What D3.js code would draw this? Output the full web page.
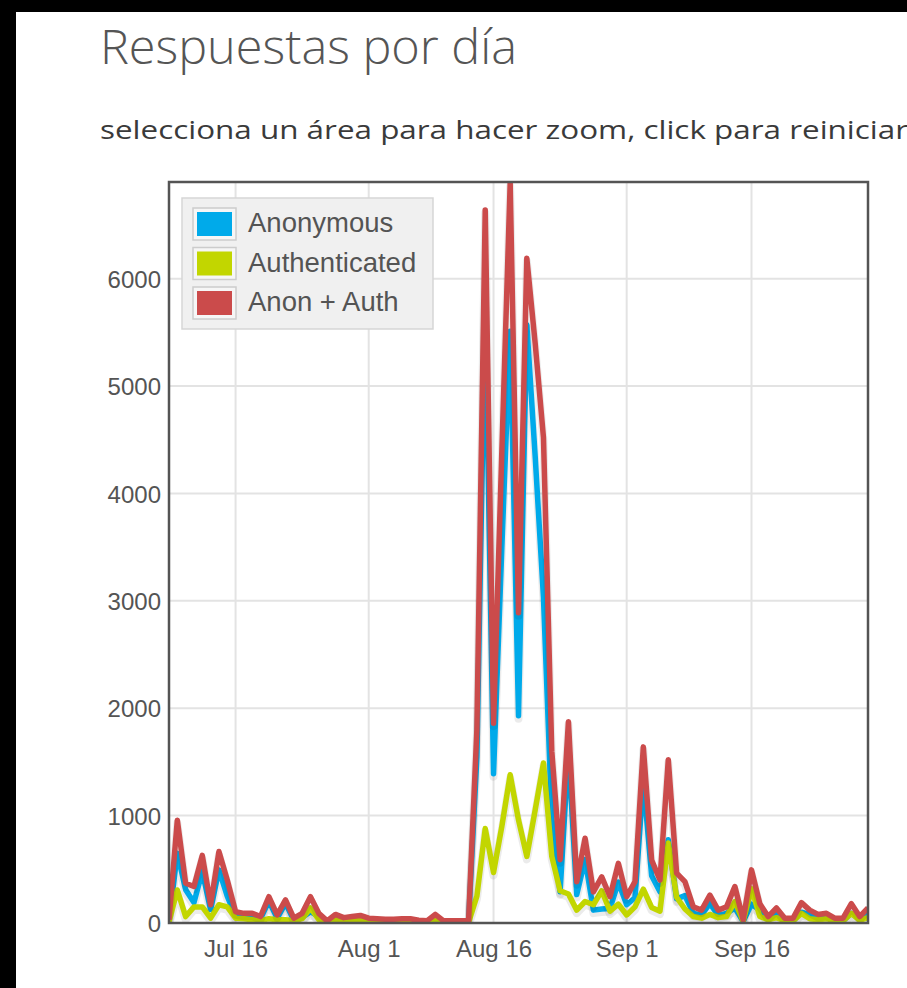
<!DOCTYPE html>
<html>
<head>
<meta charset="utf-8">
<script src="https://cdn.jsdelivr.net/npm/d3@7"></script>
<style>
  html, body { margin: 0; padding: 0; background: #000; }
  svg { display: block; }
</style>
</head>
<body>
<div id="graph"></div>
<script>
// Daily counts, one value per day starting Jul 8
var startDay = '2013-07-08';

var anonymous = [
   20, 650, 310, 190, 480, 125, 495, 250,  60,  50,  60,  40, 205,  45, 185,  25,
   50, 105,  60,  10,  50,  30,  40,  50,  30,  25,  25,  25,  25,  25,  15,  10,
   50,  10,  15,  15,  15, 1550, 5760, 1390, 3500, 5510, 1930, 5570, 4350, 3030,
  980, 290, 1605, 265, 590, 120, 130, 135, 380, 170, 235, 1325, 440, 290, 775, 225,
  255,  90,  75, 180,  70,  90, 140,  15, 175, 120,  30,  90,  25,  25, 100,  80,
   50,  50,  25,  25,  90,  35,  90 ];

var authenticated = [
   10, 307,  60, 150, 150,  45, 170, 150,  45,  40,  30,  20,  40,  30,  30,  20,
   40, 140,  30,  10,  30,  20,  20,  20,  15,  15,  10,  10,  15,  15,  10,  10,
   30,  10,   5,   5,   5, 250, 880, 470, 900, 1380, 960, 620, 1050, 1490,
  620, 300, 270, 120, 200, 170, 300, 110, 175,  75, 150, 315, 145, 110, 745, 240,
  130,  60,  45,  80,  50,  60, 200,  15, 320,  60,  30,  50,  20,  20,  90,  40,
   30,  40,  20,  20,  90,  25,  50 ];

var anonPlusAuth = [
   30, 957, 370, 340, 630, 170, 665, 400, 105,  90,  90,  60, 245,  75, 215,  45,
   90, 245,  90,  20,  80,  50,  60,  70,  45,  40,  35,  35,  40,  40,  25,  20,
   80,  20,  20,  20,  20, 1800, 6640, 1860, 4400, 6890, 2890, 6190, 5400, 4520,
 1600, 590, 1875, 385, 790, 290, 430, 245, 555, 245, 385, 1640, 585, 400, 1520, 465,
  385, 150, 120, 260, 120, 150, 340,  30, 495, 180,  60, 140,  45,  45, 190, 120,
   80,  90,  45,  45, 180,  60, 140 ];

var seriesNames  = [ 'Anonymous', 'Authenticated', 'Anon + Auth' ];
var seriesColors = [ '#00aaea', '#c2d600', '#cb4b4b' ];

var xTickDates  = [ '2013-07-16', '2013-08-01', '2013-08-16', '2013-09-01', '2013-09-16' ];
var xTickLabels = [ 'Jul 16', 'Aug 1', 'Aug 16', 'Sep 1', 'Sep 16' ];
var yTicks      = [ 0, 1000, 2000, 3000, 4000, 5000, 6000 ];


function CanvasApp ()
{
    var W = 907, H = 988;
    var plot = { left: 169, top: 182, right: 868, bottom: 923 };

    var parse = d3.timeParse ('%Y-%m-%d');
    var t0 = parse (startDay);

    // build the three series as date/value pairs
    var seriesValues = [ anonymous, authenticated, anonPlusAuth ];
    var series = seriesValues.map (function (vals, k)
    {
        return {
            name:  seriesNames[k],
            color: seriesColors[k],
            points: vals.map (function (v, i) { return { x: d3.timeDay.offset (t0, i), y: v }; })
        };
    });

    var xScale = d3.scaleTime ()
                   .domain ( [ t0, d3.timeDay.offset (t0, anonymous.length - 1) ] )
                   .range ( [ plot.left, plot.right ] );

    var yScale = d3.scaleLinear ()
                   .domain ( [ 0, 6900 ] )
                   .range ( [ plot.bottom, plot.top ] );

    var svg = d3.select ('#graph')
                .append ('svg')
                .attr ('width', W)
                .attr ('height', H);

    // black frame + white page
    svg.append ('rect').attr ('width', W).attr ('height', H).attr ('fill', '#000');
    svg.append ('rect').attr ('x', 16).attr ('y', 12)
       .attr ('width', W - 16).attr ('height', H - 12).attr ('fill', '#fff');

    // Titles
    svg.append ('text')
       .attr ('x', 100).attr ('y', 64)
       .attr ('textLength', 417).attr ('lengthAdjust', 'spacingAndGlyphs')
       .style ('font-family', '"Open Sans", sans-serif')
       .style ('font-weight', 300)
       .style ('font-size', '47px')
       .style ('fill', '#555')
       .text ('Respuestas por día');

    svg.append ('text')
       .attr ('x', 100).attr ('y', 139)
       .attr ('textLength', 808).attr ('lengthAdjust', 'spacingAndGlyphs')
       .style ('font-family', '"Open Sans", sans-serif')
       .style ('font-size', '26px')
       .style ('fill', '#3a3a3a')
       .text ('selecciona un área para hacer zoom, click para reiniciar');

    // grid
    var grid = svg.append ('g').attr ('class', 'grid');

    grid.selectAll ('line.gx')
        .data (xTickDates.map (parse))
        .enter ()
        .append ('line')
        .attr ('x1', function (d) { return xScale (d); })
        .attr ('x2', function (d) { return xScale (d); })
        .attr ('y1', plot.top).attr ('y2', plot.bottom)
        .attr ('stroke', '#e3e3e3').attr ('stroke-width', 2);

    grid.selectAll ('line.gy')
        .data (yTicks.slice (1))
        .enter ()
        .append ('line')
        .attr ('x1', plot.left).attr ('x2', plot.right)
        .attr ('y1', function (d) { return yScale (d); })
        .attr ('y2', function (d) { return yScale (d); })
        .attr ('stroke', '#e3e3e3').attr ('stroke-width', 2);

    // axes (labels only, flot style)
    var xAxis = d3.axisBottom (xScale)
                  .tickValues (xTickDates.map (parse))
                  .tickFormat (function (d, i) { return xTickLabels[i]; })
                  .tickSize (0)
                  .tickPadding (17);

    var yAxis = d3.axisLeft (yScale)
                  .tickValues (yTicks)
                  .tickSize (0)
                  .tickPadding (8)
                  .tickFormat (d3.format ('d'));

    var gx = svg.append ('g')
                .attr ('transform', 'translate(0,' + plot.bottom + ')')
                .call (xAxis);

    var gy = svg.append ('g')
                .attr ('transform', 'translate(' + plot.left + ',0)')
                .call (yAxis);

    [gx, gy].forEach (function (g)
    {
        g.select ('.domain').remove ();
        g.selectAll ('text')
         .style ('font-family', '"Liberation Sans", Arial, sans-serif')
         .style ('font-size', '24px')
         .style ('fill', '#545454');
    });
    gy.selectAll ('text').attr ('dy', '0.36em');

    // lines
    svg.append ('clipPath').attr ('id', 'plotClip')
       .append ('rect')
       .attr ('x', plot.left).attr ('y', plot.top - 1)
       .attr ('width', plot.right - plot.left)
       .attr ('height', plot.bottom - plot.top + 1);

    var line = d3.line ()
                 .x (function (d) { return xScale (d.x); })
                 .y (function (d) { return yScale (d.y); });

    var lines = svg.append ('g').attr ('clip-path', 'url(#plotClip)');

    series.forEach (function (s)
    {
        // soft shadow under each line
        lines.append ('path')
             .datum (s.points)
             .attr ('d', line)
             .attr ('transform', 'translate(0,3)')
             .attr ('fill', 'none')
             .attr ('stroke', 'rgba(0,0,0,0.08)')
             .attr ('stroke-width', 8)
             .attr ('stroke-linejoin', 'round');

        lines.append ('path')
             .datum (s.points)
             .attr ('d', line)
             .attr ('fill', 'none')
             .attr ('stroke', s.color)
             .attr ('stroke-width', 5.5)
             .attr ('stroke-linejoin', 'round');
    });

    // plot border
    svg.append ('rect')
       .attr ('x', plot.left).attr ('y', plot.top)
       .attr ('width', plot.right - plot.left)
       .attr ('height', plot.bottom - plot.top)
       .attr ('fill', 'none')
       .attr ('stroke', '#545454')
       .attr ('stroke-width', 2.5);

    // legend
    var legend = svg.append ('g').attr ('transform', 'translate(182,198)');

    legend.append ('rect')
          .attr ('width', 251).attr ('height', 131)
          .attr ('fill', '#f0f0f0')
          .attr ('stroke', '#d6d6d6').attr ('stroke-width', 1.5);

    var rows = legend.selectAll ('g.row')
                     .data (series)
                     .enter ()
                     .append ('g')
                     .attr ('transform', function (d, i) { return 'translate(0,' + (10 + i * 39.5) + ')'; });

    rows.append ('rect')
        .attr ('x', 11).attr ('y', 0).attr ('width', 43).attr ('height', 32)
        .attr ('fill', '#f6f6f6')
        .attr ('stroke', '#cccccc').attr ('stroke-width', 1.5);

    rows.append ('rect')
        .attr ('x', 15).attr ('y', 4).attr ('width', 35).attr ('height', 24)
        .attr ('fill', function (d) { return d.color; });

    rows.append ('text')
        .attr ('x', 66).attr ('y', 24)
        .style ('font-family', '"Liberation Sans", Arial, sans-serif')
        .style ('font-size', '27.5px')
        .style ('fill', '#545454')
        .text (function (d) { return d.name; });
}

CanvasApp ();
</script>
</body>
</html>
